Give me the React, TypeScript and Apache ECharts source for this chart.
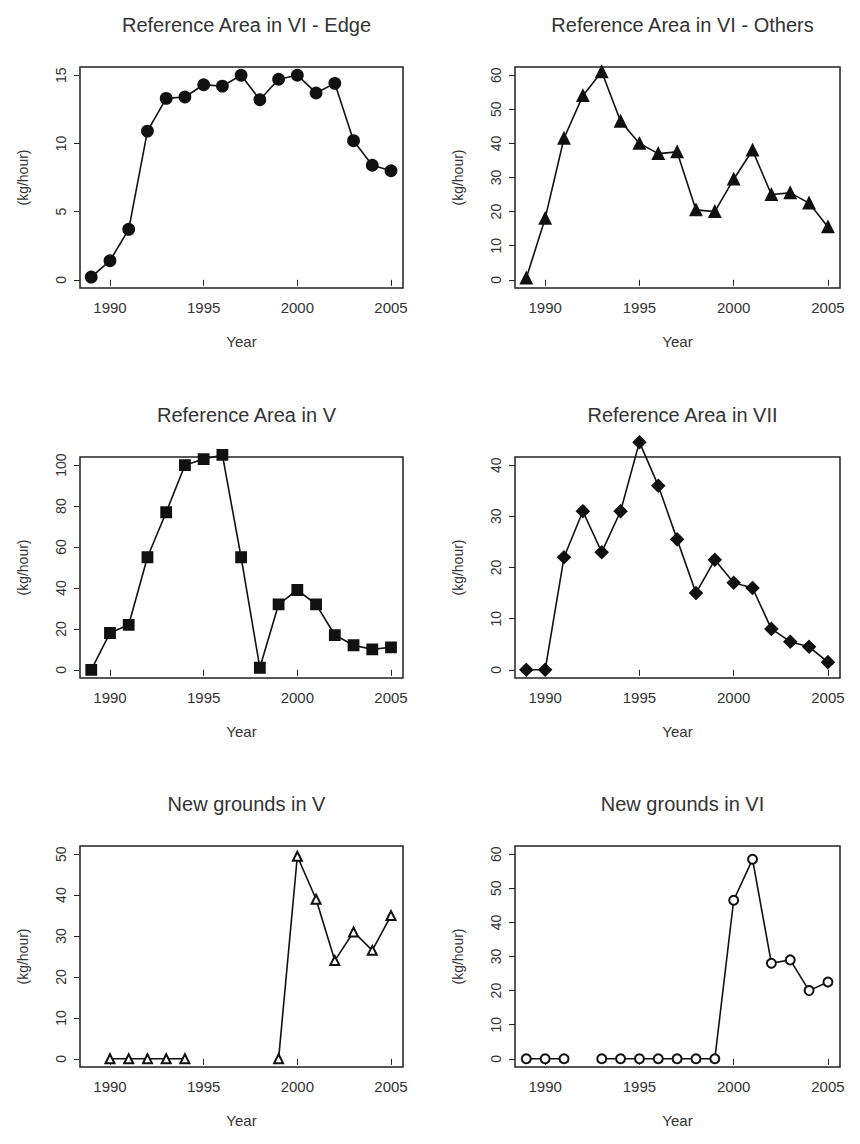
import React, { useEffect, useRef } from "react";
import * as echarts from "echarts";

const years = [1989, 1990, 1991, 1992, 1993, 1994, 1995, 1996, 1997, 1998, 1999, 2000, 2001, 2002, 2003, 2004, 2005];

const edgeVI = [0.2, 1.4, 3.7, 10.9, 13.3, 13.4, 14.3, 14.2, 15.0, 13.2, 14.7, 15.0, 13.7, 14.4, 10.2, 8.4, 8.0];
const othersVI = [0.5, 18, 41.5, 54, 61, 46.5, 40, 37, 37.5, 20.5, 20, 29.5, 38, 25, 25.5, 22.5, 15.5];
const areaV = [0, 18, 22, 55, 77, 100, 103, 105, 55, 1, 32, 39, 32, 17, 12, 10, 11];
const areaVII = [0, 0, 22, 31, 23, 31, 44.5, 36, 25.5, 15, 21.5, 17, 16, 8, 5.5, 4.5, 1.5];
const newV = [null, 0, 0, 0, 0, 0, null, null, null, null, 0, 49.5, 39, 24, 31, 26.5, 35];
const newVI = [0, 0, 0, null, 0, 0, 0, 0, 0, 0, 0, 46.5, 58.5, 28, 29, 20, 22.5];

const xTicks = [1990, 1995, 2000, 2005];

const panels = [
  { title: "Reference Area in VI - Edge", data: edgeVI, symbol: "circle", yMax: 15, yStep: 5 },
  { title: "Reference Area in VI - Others", data: othersVI, symbol: "triangle", yMax: 60, yStep: 10 },
  { title: "Reference Area in V", data: areaV, symbol: "rect", yMax: 100, yStep: 20 },
  { title: "Reference Area in VII", data: areaVII, symbol: "diamond", yMax: 40, yStep: 10 },
  { title: "New grounds in V", data: newV, symbol: "emptyTriangle", yMax: 50, yStep: 10 },
  { title: "New grounds in VI", data: newVI, symbol: "emptyCircle", yMax: 60, yStep: 10 },
];

const font = "Liberation Sans, Arial, sans-serif";
const textColor = "#333";

export default function App() {
  const ref = useRef<HTMLDivElement>(null);

  useEffect(() => {
    if (!ref.current) return;
    const chart = echarts.init(ref.current, null, { renderer: "svg" });

    const lefts = [80, 515];
    const widths = [323, 325];
    const tops = [67, 457, 846];
    const h = 221;

    const grids: any[] = [];
    const xAxes: any[] = [];
    const yAxes: any[] = [];
    const series: any[] = [];
    const titles: any[] = [];

    panels.forEach((p, i) => {
      const col = i % 2;
      const row = Math.floor(i / 2);
      grids.push({
        left: lefts[col], top: tops[row], width: widths[col], height: h,
        show: true, borderColor: "#222", borderWidth: 1.5, containLabel: false,
      });
      titles.push({
        text: p.title, left: lefts[col] + widths[col] / 2, top: tops[row] - 57, textAlign: "center",
        textStyle: { fontFamily: font, fontSize: 20, fontWeight: "normal", color: textColor },
      });
      const pad = p.yMax * 0.04;
      const yTicks: number[] = [];
      for (let v = 0; v <= p.yMax; v += p.yStep) yTicks.push(v);
      xAxes.push({
        type: "value", gridIndex: i, min: 1988.4, max: 2005.64,
        name: "Year", nameLocation: "middle", nameGap: 46,
        nameTextStyle: { fontFamily: font, fontSize: 15, color: textColor },
        axisLine: { show: false }, splitLine: { show: false },
        axisTick: { show: true, inside: false, length: 6, customValues: xTicks, lineStyle: { color: "#222" } },
        axisLabel: { customValues: xTicks, formatter: (v: number) => String(v), fontFamily: font, fontSize: 15, color: textColor, margin: 12 },
      });
      yAxes.push({
        type: "value", gridIndex: i, min: -pad, max: p.yMax + pad,
        name: "(kg/hour)", nameLocation: "middle", nameGap: 50,
        nameTextStyle: { fontFamily: font, fontSize: 14, color: textColor },
        axisLine: { show: false }, splitLine: { show: false },
        axisTick: { show: true, length: 6, customValues: yTicks, lineStyle: { color: "#222" } },
        axisLabel: { customValues: yTicks, formatter: (v: number) => String(v), rotate: 90, fontFamily: font, fontSize: 14, color: textColor, margin: 12 },
      });
      series.push({
        type: "line", xAxisIndex: i, yAxisIndex: i,
        data: years.map((y, k) => [y, p.data[k]]),
        connectNulls: false,
        clip: false,
        symbol: p.symbol, symbolSize: p.symbol === "rect" ? 10 : p.symbol === "diamond" ? 12 : p.symbol.startsWith("empty") ? 9 : 11,
        showAllSymbol: true,
        lineStyle: { color: "#111", width: 1.6 },
        itemStyle: { color: "#111", borderColor: "#111", borderWidth: 1.8 },
      });
    });

    chart.setOption({
      animation: false,
      backgroundColor: "#fff",
      title: titles,
      grid: grids,
      xAxis: xAxes,
      yAxis: yAxes,
      series,
    });

    return () => chart.dispose();
  }, []);

  return <div ref={ref} style={{ position: "absolute", left: 0, top: 0, width: 860, height: 1144 }} />;
}
